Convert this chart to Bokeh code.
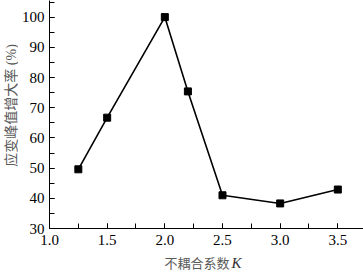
import math
from bokeh.plotting import figure
from bokeh.layouts import column, row
from bokeh.models import SingleIntervalTicker, PrintfTickFormatter, Range1d
from bokeh.core.properties import value
from bokeh.embed import file_html
from bokeh.resources import INLINE

k_values = [1.25, 1.5, 2.0, 2.2, 2.5, 3.0, 3.5]
increase_rate = [49.6, 66.7, 100.0, 75.4, 41.0, 38.3, 42.9]

x_label_text = "不耦合系数"
x_label_var = "K"
y_label_text = "应变峰值增大率 (%)"

SERIF = "'Liberation Serif', 'Noto Sans CJK SC'"

p = figure(frame_width=316, frame_height=228, output_backend="svg", toolbar_location=None,
           x_range=Range1d(1.0, 3.74), y_range=Range1d(30, 105.5),
           min_border_left=28, min_border_right=1, min_border_top=0, min_border_bottom=24)
p.outline_line_color = None
p.grid.grid_line_color = None
p.background_fill_color = "white"
p.border_fill_color = "white"

p.line(k_values, increase_rate, line_color="black", line_width=1.6)
p.scatter(k_values, increase_rate, marker="square", size=7, fill_color="black", line_color="black")

for ax in (p.xaxis[0], p.yaxis[0]):
    ax.axis_line_color = "black"
    ax.axis_line_width = 1
    ax.major_tick_in = 5
    ax.major_tick_out = 0
    ax.minor_tick_in = 5
    ax.minor_tick_out = 0
    ax.major_tick_line_color = "black"
    ax.minor_tick_line_color = "black"
    ax.major_label_text_font = "Liberation Serif"
    ax.major_label_text_font_size = "15px"
    ax.major_label_text_color = "black"

p.xaxis[0].ticker = SingleIntervalTicker(interval=0.5, num_minor_ticks=2)
p.xaxis[0].formatter = PrintfTickFormatter(format="%.1f")
p.xaxis[0].major_label_standoff = 6
p.yaxis[0].ticker = SingleIntervalTicker(interval=10, num_minor_ticks=2)
p.yaxis[0].formatter = PrintfTickFormatter(format="%d")
p.yaxis[0].major_label_standoff = 5

# y-axis title strip
p_y = figure(width=18, height=252, output_backend="svg", toolbar_location=None,
             x_range=Range1d(0, 18), y_range=Range1d(0, 252),
             x_axis_type=None, y_axis_type=None, min_border=0)
p_y.outline_line_color = None
p_y.grid.grid_line_color = None
p_y.text(x=[11], y=[136], text=[y_label_text], text_font=value(SERIF), angle=math.pi / 2,
         text_font_size="14px", text_color="#5a5a5a", text_align="center", text_baseline="middle")

# x-axis title strip (allows the italic K)
p2 = figure(width=363, height=20, output_backend="svg", toolbar_location=None,
            x_range=Range1d(0, 363), y_range=Range1d(0, 20),
            x_axis_type=None, y_axis_type=None, min_border=0)
p2.outline_line_color = None
p2.grid.grid_line_color = None
p2.text(x=[229], y=[10], text=[x_label_text], text_font=value("Noto Sans CJK SC"),
        text_font_size="13px", text_color="#5a5a5a", text_align="right", text_baseline="middle")
p2.text(x=[231], y=[10], text=[x_label_var], text_font=value("Liberation Serif"),
        text_font_size="15px", text_font_style="italic", text_color="#333333",
        text_align="left", text_baseline="middle")

layout = column(row(p_y, p, spacing=0), p2, spacing=0)
open("out.html", "w").write(file_html(layout, INLINE))
